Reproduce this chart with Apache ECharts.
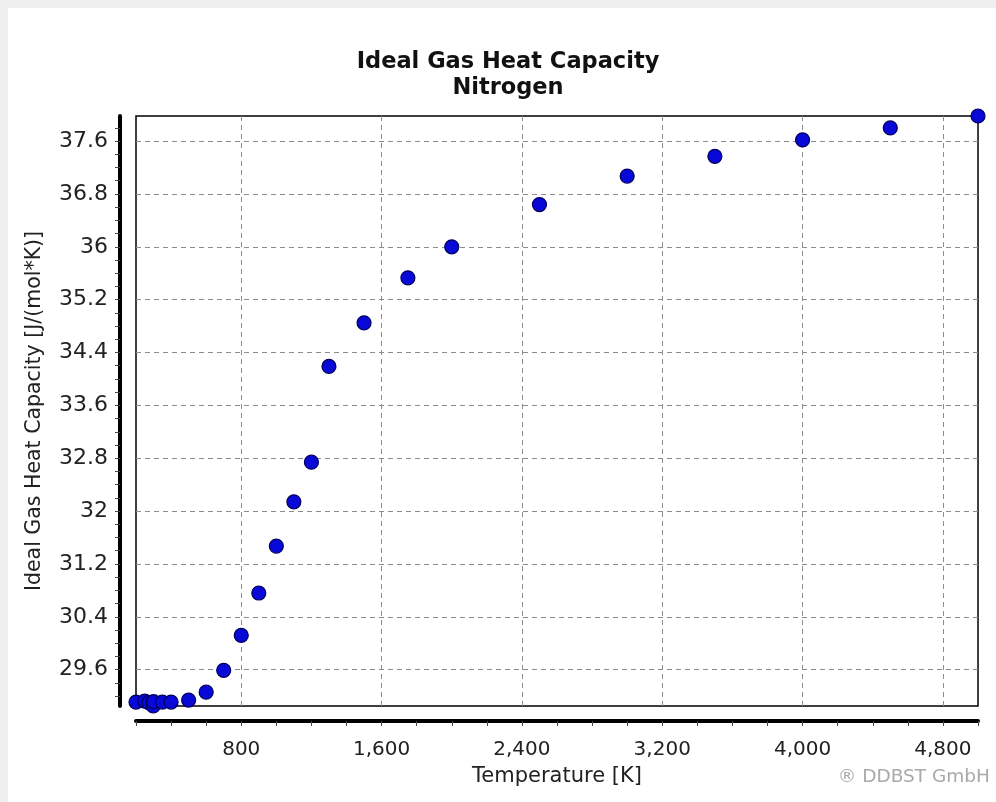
<!DOCTYPE html>
<html><head><meta charset="utf-8">
<script src="https://cdn.jsdelivr.net/npm/echarts@6/dist/echarts.min.js"></script>
<style>
html,body{margin:0;padding:0;background:#efefef;width:996px;height:802px;overflow:hidden;}
#chart{position:absolute;left:8px;top:8px;width:988px;height:794px;background:#fff;}
</style></head><body><div id="chart"></div>
<script>
// Data
const temperatures = [200, 250, 273.15, 298.15, 300, 350, 400, 500, 600, 700, 800, 900, 1000, 1100, 1200, 1300, 1500, 1750, 2000, 2500, 3000, 3500, 4000, 4500, 5000];
const heatCapacities = [29.11, 29.125, 29.10, 29.05, 29.115, 29.11, 29.11, 29.14, 29.26, 29.59, 30.12, 30.76, 31.47, 32.14, 32.74, 34.19, 34.85, 35.53, 36.0, 36.64, 37.07, 37.37, 37.62, 37.80, 37.98];

const xLabelValues = [800, 1600, 2400, 3200, 4000, 4800];
const yLabelValues = [29.6, 30.4, 31.2, 32, 32.8, 33.6, 34.4, 35.2, 36, 36.8, 37.6];
const yTickValues = [29.2, 29.4, 29.6, 29.8, 30.0, 30.2, 30.4, 30.6, 30.8, 31.0, 31.2, 31.4, 31.6, 31.8, 32.0, 32.2, 32.4, 32.6, 32.8, 33.0, 33.2, 33.4, 33.6, 33.8, 34.0, 34.2, 34.4, 34.6, 34.8, 35.0, 35.2, 35.4, 35.6, 35.8, 36.0, 36.2, 36.4, 36.6, 36.8, 37.0, 37.2, 37.4, 37.6, 37.8];

const titleText = 'Ideal Gas Heat Capacity';
const subTitleText = 'Nitrogen';
const xName = 'Temperature [K]';
const yName = 'Ideal Gas Heat Capacity [J/(mol*K)]';
const watermark = '\u00AE DDBST GmbH';

const FONT = "'DejaVu Sans', 'Liberation Sans', sans-serif";

const chart = echarts.init(document.getElementById('chart'), null, {renderer: 'canvas'});

const points = temperatures.map((t, i) => [t, heatCapacities[i]]);

const option = {
  animation: false,
  backgroundColor: 'transparent',
  title: {
    text: titleText + '\n' + subTitleText,
    left: 500,
    top: 41,
    textAlign: 'center',
    padding: 0,
    textStyle: {
      fontFamily: FONT,
      fontWeight: 'bold',
      fontSize: 22.5,
      lineHeight: 26,
      color: '#111'
    }
  },
  graphic: [{
    type: 'text',
    right: 6,
    top: 760,
    style: {
      text: watermark,
      fontFamily: FONT,
      fontSize: 18.5,
      fill: '#a9a9a9'
    }
  }],
  grid: {
    left: 128,
    right: 18,
    top: 108,
    bottom: 96,
    show: true,
    borderColor: '#000',
    borderWidth: 1.5,
    backgroundColor: 'transparent'
  },
  xAxis: {
    type: 'value',
    min: 200,
    max: 5000,
    interval: 200,
    offset: 15,
    axisLine: {show: true, onZero: false, lineStyle: {color: '#000', width: 4}},
    axisTick: {show: true, length: 5, lineStyle: {color: '#444', width: 1}},
    axisLabel: {
      margin: 19,
      fontFamily: FONT,
      fontSize: 20,
      color: '#222',
      formatter: function (v) {
        return xLabelValues.indexOf(Math.round(v)) >= 0 ? Math.round(v).toLocaleString('en-US') : '';
      }
    },
    splitLine: {show: false},
    name: xName,
    nameLocation: 'middle',
    nameGap: 45,
    nameTextStyle: {fontFamily: FONT, fontSize: 21, color: '#222'}
  },
  yAxis: {
    type: 'value',
    min: 29.05,
    max: 37.98,
    offset: 16,
    axisLine: {show: true, onZero: false, lineStyle: {color: '#000', width: 4}},
    axisTick: {show: true, length: 5, customValues: yTickValues, lineStyle: {color: '#444', width: 1}},
    axisLabel: {
      customValues: yLabelValues,
      margin: 12,
      fontFamily: FONT,
      fontSize: 22,
      color: '#222',
      formatter: function (v) {
        return String(parseFloat(Number(v).toFixed(1)));
      }
    },
    splitLine: {show: false},
    name: yName,
    nameLocation: 'middle',
    nameGap: 75,
    nameRotate: 90,
    nameTextStyle: {fontFamily: FONT, fontSize: 20.5, color: '#222'}
  },
  series: [
    {
      type: 'scatter',
      data: [],
      silent: true,
      z: 1,
      markLine: {
        silent: true,
        animation: false,
        symbol: ['none', 'none'],
        label: {show: false},
        emphasis: {disabled: true},
        lineStyle: {color: '#8c8c8c', type: [5, 4], width: 1},
        data: xLabelValues.map(v => ({xAxis: v})).concat(yLabelValues.map(v => ({yAxis: v})))
      }
    },
    {
      type: 'scatter',
      data: points,
      symbol: 'circle',
      symbolSize: 14,
      clip: false,
      z: 5,
      itemStyle: {color: '#0808d8', borderColor: '#00005a', borderWidth: 1.2, opacity: 1}
    }
  ]
};
chart.setOption(option);
</script>
</body></html>
